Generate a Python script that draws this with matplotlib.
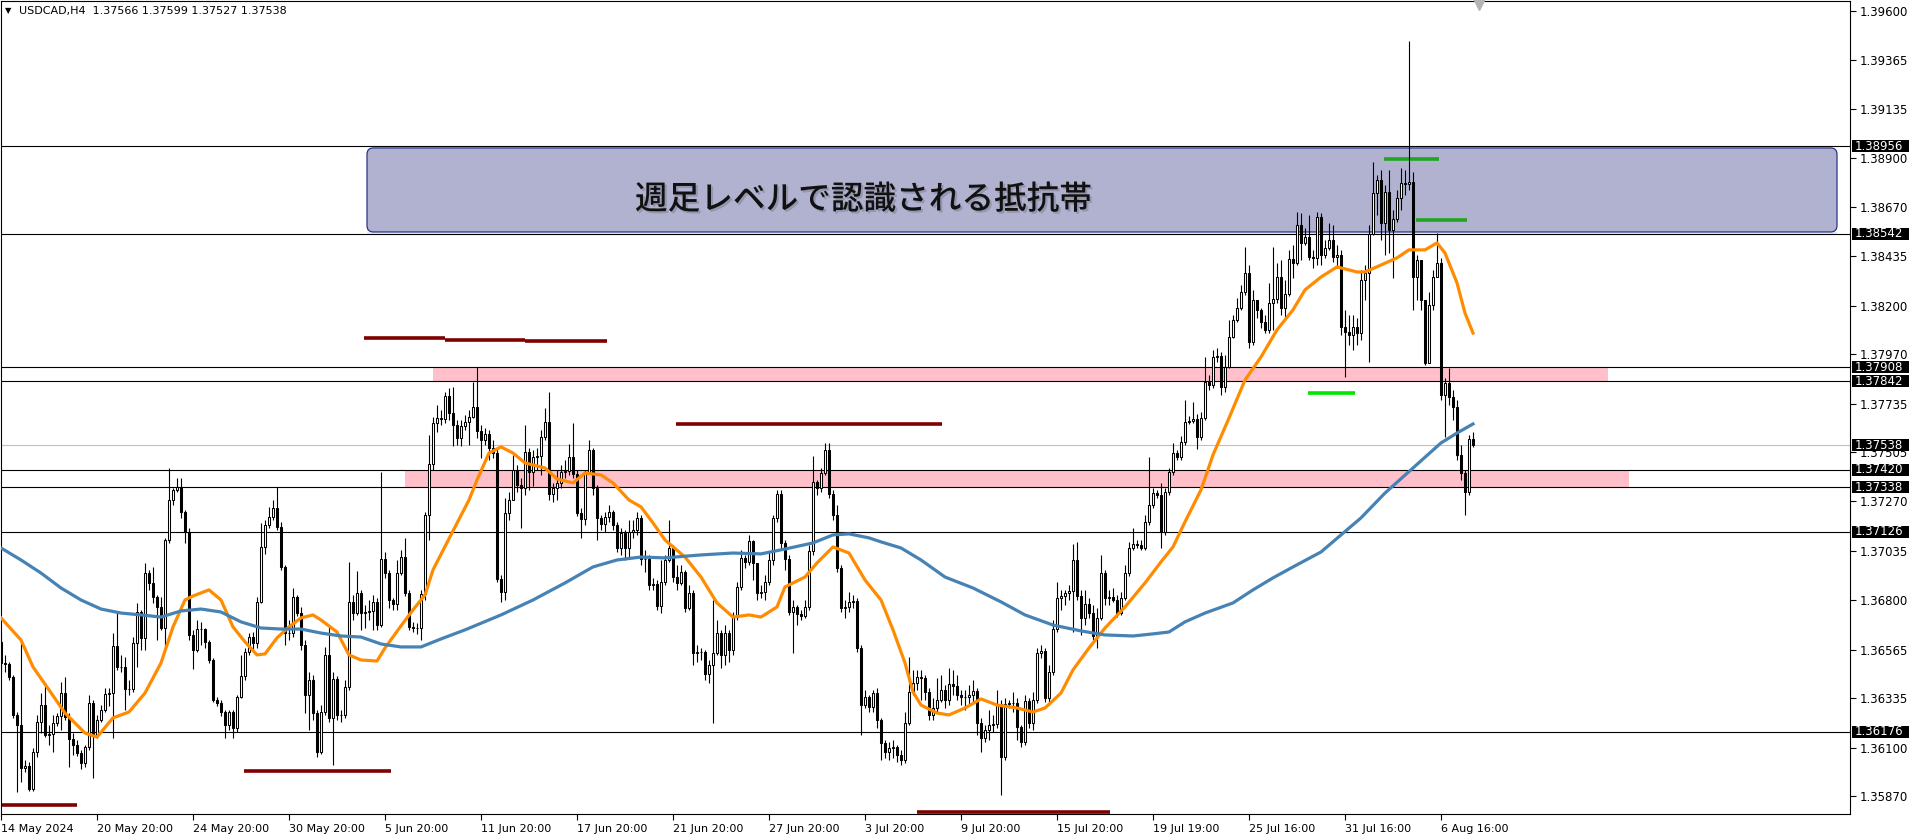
import matplotlib
matplotlib.use("Agg")
import matplotlib.pyplot as plt
import numpy as np
from matplotlib.patches import FancyBboxPatch, Rectangle
from matplotlib.transforms import blended_transform_factory
import matplotlib.patheffects as pe

# USDCAD H4, prices in points (1e-5)
first_open = 136603
close_pts = [
    136503, 136498, 136436, 136256, 136208, 136004, 136014, 135904, 136080, 136223,
    136303, 136161, 136166, 136218, 136251, 136360, 136246, 136142, 136113, 136075,
    136028, 136104, 136313, 136161, 136232, 136280, 136356, 136360, 136584, 136484,
    136484, 136379, 136379, 136598, 136745, 136622, 136930, 136883, 136816, 136769,
    136669, 137087, 137277, 137325, 137339, 137220, 137125, 136636, 136565, 136664,
    136664, 136603, 136517, 136327, 136313, 136270, 136208, 136270, 136194, 136341,
    136441, 136555, 136626, 136598, 136793, 137054, 137158, 137196, 137239, 137149,
    136959, 136645, 136645, 136816, 136740, 136588, 136351, 136422, 136265, 136080,
    136270, 136541, 136242, 136427, 136256, 136256, 136389, 136793, 136740, 136835,
    136740, 136745, 136750, 136793, 136683, 136997, 136930, 136802, 136783, 136930,
    137006, 136835, 136674, 136669, 136669, 136831, 137206, 137448, 137643, 137666,
    137662, 137771, 137690, 137633, 137572, 137628, 137647, 137671, 137719, 137605,
    137562, 137591, 137524, 137500, 136902, 136840, 137215, 137277, 137420, 137348,
    137334, 137505, 137410, 137481, 137486, 137576, 137647, 137306, 137334, 137358,
    137410, 137415, 137481, 137401, 137215, 137187, 137410, 137515, 137334, 137192,
    137163, 137196, 137220, 137158, 137049, 137120, 137049, 137125, 137135, 137192,
    136997, 136997, 136874, 136878, 136774, 136888, 136992, 137049, 136911, 136883,
    136935, 136764, 136835, 136550, 136555, 136555, 136451, 136493, 136550, 136645,
    136541, 136645, 136565, 136721, 136864, 137002, 136983, 137082, 136978, 136835,
    136840, 136888, 136992, 137192, 137306, 137073, 136997, 136745, 136769, 136736,
    136726, 136769, 137035, 137363, 137334, 137405, 137515, 137306, 137206, 136954,
    136764, 136769, 136793, 136797, 136574, 136303, 136341, 136294, 136360, 136232,
    136123, 136080, 136099, 136104, 136066, 136042, 136218, 136365, 136408, 136436,
    136432, 136365, 136256, 136289, 136327, 136375, 136327, 136403, 136394, 136351,
    136341, 136341, 136351, 136370, 136218, 136147, 136185, 136208, 136213, 136308,
    136056, 136308, 136313, 136313, 136199, 136128, 136322, 136218, 136327, 136550,
    136560, 136337, 136460, 136664, 136811, 136821, 136835, 136845, 136992, 136821,
    136717, 136783, 136740, 136631, 136717, 136930, 136811, 136816, 136802, 136740,
    136811, 136930, 137049, 137068, 137063, 137049, 137173, 137253, 137310, 137301,
    137125, 137315, 137410, 137500, 137481, 137552, 137647, 137652, 137662, 137576,
    137666, 137838, 137823, 137956, 137961, 137814, 137909, 138051, 138132, 138189,
    138265, 138355, 138028, 138227, 138180, 138122, 138085, 138213, 138232, 138336,
    138189, 138256, 138422, 138403, 138583, 138498, 138526, 138431, 138427, 138621,
    138441, 138474, 138512, 138431, 138441, 138099, 138075, 138061, 138099, 138070,
    138322, 138355, 138541, 138735, 138797, 138593, 138740, 138560, 138612, 138712,
    138783, 138778, 138788, 138336, 138417, 138227, 137928, 138204, 138336, 138403,
    137776, 137833, 137767, 137719, 137491, 137405, 137315, 137566, 137538,
]
high_pts = [
    136645, 136541, 136508, 136446, 136270, 136603, 136042, 136033, 136099, 136256,
    136360, 136408, 136208, 136256, 136265, 136413, 136436, 136265, 136170, 136137,
    136090, 136113, 136351, 136327, 136256, 136303, 136384, 136384, 136645, 136745,
    136541, 136531, 136422, 136626, 136788, 136755, 136978, 136945, 136959, 136826,
    136816, 137097, 137429, 137334, 137382, 137382, 137230, 137144, 136660, 136707,
    136698, 136669, 136612, 136527, 136341, 136327, 136280, 136280, 136280, 136351,
    136541, 136574, 136645, 136650, 136816, 137168, 137182, 137244, 137277, 137339,
    137173, 136968, 136707, 136859, 136826, 136769, 136612, 136460, 136446, 136280,
    136303, 136579, 136683, 136460, 136441, 136280, 136422, 136983, 136826, 136940,
    136850, 136778, 136802, 136826, 136811, 137410, 137030, 136945, 136811, 136992,
    137040, 137097, 136850, 136698, 136693, 136850, 137220, 137586, 137671, 137728,
    137705, 137790, 137809, 137814, 137657, 137657, 137681, 137705, 137838, 137909,
    137633, 137619, 137610, 137562, 137524, 136921, 137287, 137315, 137491, 137443,
    137382, 137633, 137524, 137515, 137524, 137610, 137714, 137790, 137358, 137420,
    137443, 137467, 137543, 137643, 137420, 137239, 137420, 137562, 137524, 137348,
    137206, 137220, 137253, 137230, 137173, 137144, 137135, 137182, 137182, 137220,
    137206, 137040, 137016, 136907, 136897, 136992, 137016, 137182, 137063, 136968,
    136968, 136945, 136874, 136850, 136588, 136574, 136565, 136517, 136802, 136707,
    136660, 136683, 136660, 136745, 136888, 137040, 137016, 137111, 137087, 136945,
    136874, 136921, 137030, 137206, 137325, 137325, 137087, 137016, 136802, 136778,
    136755, 136802, 137063, 137486, 137372, 137429, 137548, 137548, 137325, 137253,
    136968, 136802, 136840, 136826, 136811, 136588, 136375, 136351, 136375, 136384,
    136242, 136137, 136128, 136137, 136113, 136090, 136270, 136531, 136470, 136470,
    136470, 136446, 136384, 136337, 136432, 136446, 136398, 136479, 136470, 136446,
    136375, 136375, 136398, 136422, 136384, 136242, 136208, 136280, 136256, 136375,
    136327, 136337, 136327, 136365, 136337, 136208, 136351, 136337, 136365, 136574,
    136588, 136574, 136493, 136707, 136888, 136850, 136850, 136874, 137068, 137078,
    136850, 136850, 136811, 136778, 136764, 137016, 136945, 136850, 136859, 136826,
    136840, 136968, 137078, 137144, 137087, 137087, 137206, 137481, 137334, 137325,
    137358, 137334, 137429, 137548, 137515, 137581, 137752, 137676, 137743, 137686,
    137695, 137956, 137871, 137990, 137999, 137980, 137966, 138132, 138156, 138237,
    138298, 138479, 138393, 138275, 138227, 138189, 138156, 138308, 138479, 138403,
    138417, 138322, 138465, 138488, 138645, 138640, 138569, 138631, 138465, 138645,
    138640, 138512, 138593, 138583, 138488, 138465, 138180, 138156, 138156, 138142,
    138370, 138393, 138583, 138882, 138821, 138845, 138773, 138845, 138655, 138750,
    138854, 138845, 139457, 138835, 138441, 138408, 138227, 138265, 138370, 138545,
    138427, 137857, 137904, 137800, 137752, 137538, 137420, 137586, 137599,
]
low_pts = [
    136460, 136460, 136422, 136242, 135890, 135938, 135985, 135895, 135895, 136056,
    136170, 136151, 136113, 136080, 136204, 136185, 136232, 136009, 136066, 136061,
    135999, 136009, 136090, 135957, 136147, 136223, 136270, 136299, 136147, 136470,
    136460, 136280, 136351, 136365, 136484, 136565, 136565, 136850, 136788, 136612,
    136660, 136565, 137073, 137253, 137315, 137192, 137073, 136612, 136474, 136555,
    136588, 136574, 136503, 136318, 136299, 136251, 136147, 136185, 136147, 136175,
    136337, 136422, 136541, 136565, 136574, 136788, 137021, 137144, 137182, 137135,
    136945, 136588, 136612, 136626, 136726, 136565, 136265, 136185, 136232, 136056,
    136071, 136256, 136223, 136018, 136232, 136223, 136242, 136375, 136707, 136731,
    136660, 136669, 136707, 136660, 136660, 136674, 136907, 136764, 136755, 136755,
    136921, 136821, 136660, 136650, 136641, 136612, 136802, 137087, 137420, 137600,
    137633, 137643, 137657, 137534, 137538, 137534, 137610, 137538, 137666, 137572,
    137476, 137538, 137467, 137476, 136888, 136793, 136802, 137182, 137277, 137315,
    137144, 137301, 137325, 137344, 137420, 137396, 137562, 137277, 137268, 137277,
    137334, 137382, 137396, 137382, 137201, 137097, 137158, 137420, 137301, 137087,
    137135, 137125, 137173, 137135, 137030, 137016, 136992, 137002, 137097, 137111,
    136968, 136935, 136850, 136850, 136755, 136740, 136874, 136983, 136888, 136850,
    136874, 136745, 136755, 136493, 136508, 136517, 136422, 136408, 136218, 136541,
    136479, 136493, 136508, 136541, 136707, 136850, 136954, 136968, 136897, 136802,
    136811, 136802, 136874, 136968, 137173, 137040, 136945, 136731, 136550, 136683,
    136707, 136717, 136755, 137016, 137301, 137315, 137396, 137287, 137182, 136935,
    136745, 136717, 136745, 136764, 136555, 136161, 136289, 136270, 136270, 136194,
    136042, 136052, 136042, 136052, 136033, 136018, 136028, 136208, 136351, 136375,
    136327, 136327, 136232, 136232, 136270, 136318, 136289, 136303, 136351, 136327,
    136303, 136280, 136303, 136318, 136161, 136080, 136128, 136137, 136175, 136194,
    135876, 136042, 136289, 136270, 136137, 136104, 136113, 136194, 136185, 136313,
    136527, 136318, 136303, 136446, 136650, 136755, 136778, 136802, 136650, 136802,
    136636, 136683, 136717, 136612, 136574, 136707, 136778, 136778, 136793, 136721,
    136731, 136802, 136916, 137040, 137049, 137040, 137040, 137158, 137239, 137287,
    137049, 137111, 137301, 137396, 137467, 137467, 137538, 137638, 137643, 137519,
    137562, 137657, 137800, 137809, 137933, 137776, 137790, 137904, 138047, 138122,
    138180, 138251, 137999, 138014, 138142, 138094, 138070, 138070, 138085, 138213,
    138156, 138132, 138246, 138332, 138393, 138417, 138488, 138417, 138379, 138393,
    138393, 138427, 138465, 138408, 138379, 138061, 137862, 138014, 137990, 138014,
    138037, 138227, 137933, 138536, 138631, 138512, 138441, 138450, 138332, 138598,
    138655, 138726, 138750, 138180, 138227, 138180, 137918, 137928, 138180, 138346,
    137752, 137576, 137728, 137657, 137467, 137372, 137206, 137301, 137527,
]

# moving averages (bar index, value in points)
ma_fast_idx = [0, 5, 8, 12, 16, 21, 24, 28, 32, 36, 40, 43, 46, 48, 52, 55, 58, 61, 64, 66,
               69, 72, 75, 78, 80, 84, 87, 90, 94, 96, 100, 103, 106, 108, 113, 117, 119, 122, 125, 128,
               131, 136, 139, 143, 146, 150, 153, 157, 160, 163, 166, 171, 175, 179, 183, 187, 190, 194, 196, 201,
               204, 208, 212, 216, 220, 223, 226, 228, 230, 234, 237, 241, 245, 249, 254, 258, 261, 265, 268, 272,
               276, 281, 286, 290, 293, 296, 300, 303, 307, 311, 315, 319, 323, 326, 330, 334, 339, 341, 345, 349,
               352, 356, 359, 361, 364, 366, 368]
ma_fast_pts = [136717, 136612, 136484, 136375, 136265, 136170, 136151, 136242, 136270, 136360,
               136503, 136674, 136802, 136821, 136850, 136802, 136674, 136603, 136541, 136546,
               136622, 136674, 136717, 136731, 136707, 136650, 136541, 136517, 136512, 136574,
               136679, 136755, 136826, 136945, 137130, 137277, 137372, 137500, 137529, 137500,
               137453, 137429, 137377, 137358, 137405, 137396, 137358, 137277, 137244, 137168,
               137087, 137006, 136911, 136788, 136721, 136731, 136721, 136769, 136864, 136911,
               136978, 137054, 137025, 136897, 136802, 136660, 136503, 136365, 136303, 136265,
               136256, 136289, 136332, 136303, 136289, 136270, 136289, 136360, 136470, 136574,
               136669, 136769, 136883, 136983, 137054, 137173, 137325, 137491, 137666, 137847,
               137956, 138085, 138180, 138275, 138336, 138384, 138360, 138360, 138393, 138427,
               138465, 138465, 138498, 138450, 138308, 138165, 138070]
ma_slow_idx = [0, 5, 10, 15, 20, 25, 30, 35, 40, 45, 50, 55, 60, 65, 70, 75, 80, 85, 90, 95,
               100, 105, 110, 116, 125, 133, 141, 148, 154, 160, 166, 175, 183, 190, 196, 203, 208, 212, 217, 220,
               225, 230, 236, 243, 250, 256, 263, 270, 276, 283, 288, 292, 296, 301, 308, 313, 318, 323, 330, 340,
               346, 353, 360, 364, 368]
ma_slow_pts = [137049, 136992, 136930, 136859, 136802, 136759, 136740, 136731, 136721, 136750,
               136759, 136745, 136698, 136669, 136664, 136664, 136645, 136631, 136626, 136593,
               136579, 136579, 136617, 136660, 136731, 136802, 136883, 136959, 136992, 137006,
               137002, 137016, 137025, 137021, 137044, 137073, 137111, 137116, 137097, 137078,
               137049, 136992, 136911, 136859, 136793, 136731, 136683, 136655, 136636, 136631,
               136641, 136650, 136698, 136740, 136788, 136850, 136907, 136959, 137030, 137192,
               137310, 137429, 137548, 137595, 137638]

tick_bars = [0, 24, 48, 72, 96, 120, 144, 168, 192, 216, 240, 264, 288, 312, 336, 360]
tick_texts = ["14 May 2024", "20 May 20:00", "24 May 20:00", "30 May 20:00", "5 Jun 20:00",
              "11 Jun 20:00", "17 Jun 20:00", "21 Jun 20:00", "27 Jun 20:00", "3 Jul 20:00",
              "9 Jul 20:00", "15 Jul 20:00", "19 Jul 19:00", "25 Jul 16:00", "31 Jul 16:00",
              "6 Aug 16:00"]
price_ticks = [1.39600, 1.39365, 1.39135, 1.38900, 1.38670, 1.38435, 1.38200, 1.37970, 1.37735,
               1.37505, 1.37270, 1.37035, 1.36800, 1.36565, 1.36335, 1.36100, 1.35870]

level_lines = [1.38956, 1.38542, 1.37908, 1.37842, 1.37420, 1.37338, 1.37126, 1.36176]
bid_price = 1.37538

# zones: (start bar, end bar, low, high)
resist_zone = (91.5, 459.0, 1.38550, 1.38949)
pink_zones = [(108.0, 401.75, 1.37842, 1.37908), (101.0, 407.0, 1.37338, 1.37420)]
red_marks = [(90.75, 111.0, 1.38046), (111.0, 131.0, 1.38037), (131.0, 151.5, 1.38032),
             (168.75, 235.25, 1.37638), (60.75, 97.5, 1.35990), (-0.25, 19.0, 1.35827),
             (229.0, 277.25, 1.35795)]
green_marks = [(345.75, 359.5, 1.38898, "#1fa51f"), (353.75, 366.5, 1.38607, "#1fa51f"),
               (326.75, 338.5, 1.37785, "#00e600")]
zone_label = "週足レベルで認識される抵抗帯"
zone_label_pos = (158.5, 1.38704)

W, H = 1916, 839
fig = plt.figure(figsize=(W / 100, H / 100), dpi=100)
fig.patch.set_facecolor("white")
ax = fig.add_axes([0.5 / W, (H - 814) / H, 1849.5 / W, 813 / H])
ax.set_facecolor("white")

c = np.array(close_pts) / 1e5
hi = np.array(high_pts) / 1e5
lo = np.array(low_pts) / 1e5
o = np.concatenate([[first_open / 1e5], c[:-1]])
hi = np.maximum(hi, np.maximum(o, c))
lo = np.minimum(lo, np.minimum(o, c))
x = np.arange(len(c))

ax.set_xlim(-0.125, 462.25)
ax.set_ylim(1.357855, 1.39647)

# zones
ax.add_patch(FancyBboxPatch((resist_zone[0], resist_zone[2]), resist_zone[1] - resist_zone[0],
                            resist_zone[3] - resist_zone[2],
                            boxstyle="round,pad=0,rounding_size=1.6", mutation_aspect=1 / 5261.5,
                            facecolor="#b0b2d0", edgecolor="#27348b", linewidth=0.9, zorder=0.6))
ax.add_patch(Rectangle((resist_zone[0], resist_zone[2] - 0.00012), resist_zone[1] - resist_zone[0], 0.00012,
                       facecolor="#ececec", edgecolor="none", zorder=0.5))
for x0, x1, y0, y1 in pink_zones:
    ax.add_patch(Rectangle((x0, y0), x1 - x0, y1 - y0, facecolor="#ffc0cb", edgecolor="none", zorder=0.5))

for lvl in level_lines:
    ax.axhline(lvl, color="black", linewidth=0.8, zorder=1)
ax.axhline(bid_price, color="#c0c0c0", linewidth=0.8, zorder=1)

for x0, x1, y in red_marks:
    ax.plot([x0, x1], [y, y], color="#800000", linewidth=2.6, solid_capstyle="butt", zorder=2)
for x0, x1, y, col in green_marks:
    ax.plot([x0, x1], [y, y], color=col, linewidth=2.6, solid_capstyle="butt", zorder=2)

# candles
ax.vlines(x, lo, hi, color="black", linewidth=0.8, zorder=3)
up = c >= o
body_lo = np.minimum(o, c)
body_h = np.maximum(np.abs(c - o), 0.000005)
ax.bar(x[up], body_h[up], bottom=body_lo[up], width=0.5, facecolor="white",
       edgecolor="black", linewidth=0.75, zorder=4)
ax.bar(x[~up], body_h[~up], bottom=body_lo[~up], width=0.5, facecolor="black",
       edgecolor="black", linewidth=0.75, zorder=4)

ax.plot(ma_fast_idx, np.array(ma_fast_pts) / 1e5, color="#ff8c00", linewidth=2.3,
        solid_joinstyle="round", zorder=5)
ax.plot(ma_slow_idx, np.array(ma_slow_pts) / 1e5, color="#4682b4", linewidth=2.3,
        solid_joinstyle="round", zorder=5)

ax.text(zone_label_pos[0], zone_label_pos[1], zone_label, family=["Noto Sans CJK JP", "DejaVu Sans"],
        fontsize=23.5, fontweight="medium", color="#111111", ha="left", va="center", zorder=6,
        path_effects=[pe.withSimplePatchShadow(offset=(1.5, -1.5), shadow_rgbFace="#606070", alpha=0.35)])

# shift marker at top
ax.plot([369.5], [1.39633], marker="v", color="#b4b4b4", markersize=8, clip_on=False, zorder=6)

# axes styling
for sp in ax.spines.values():
    sp.set_color("black")
    sp.set_linewidth(0.8)
ax.yaxis.tick_right()
ax.set_yticks(price_ticks)
ax.set_yticklabels([f"{p:.5f}" for p in price_ticks])
ax.tick_params(axis="y", length=4, width=0.8, labelsize=8.5, pad=3, colors="black")
ax.set_xticks(tick_bars)
ax.set_xticklabels(tick_texts, ha="left")
ax.tick_params(axis="x", length=4, width=0.8, labelsize=8, pad=3, colors="black")

# black price tags on the axis (the bid tag covers the 1.37505 tick label, as in the terminal)
tr = blended_transform_factory(ax.transAxes, ax.transData)
tag_h = 12 / 21046
for lvl in level_lines + [bid_price]:
    ax.add_patch(Rectangle((1.0 + 2 / 1849.5, lvl - tag_h / 2), 57 / 1849.5, tag_h, transform=tr,
                           facecolor="black", edgecolor="none", clip_on=False, zorder=9))
    ax.text(1.0 + 5 / 1849.5, lvl, f"{lvl:.5f}", transform=tr, fontsize=8.5, color="white",
            ha="left", va="center", zorder=10, clip_on=False)

fig.text(5 / W, 1 - 11 / H, "▼", fontsize=6, color="black", va="center", ha="left")
fig.text(19 / W, 1 - 11 / H, "USDCAD,H4  1.37566 1.37599 1.37527 1.37538", fontsize=8,
         color="black", va="center", ha="left")

fig.savefig("out.png", dpi=100)
